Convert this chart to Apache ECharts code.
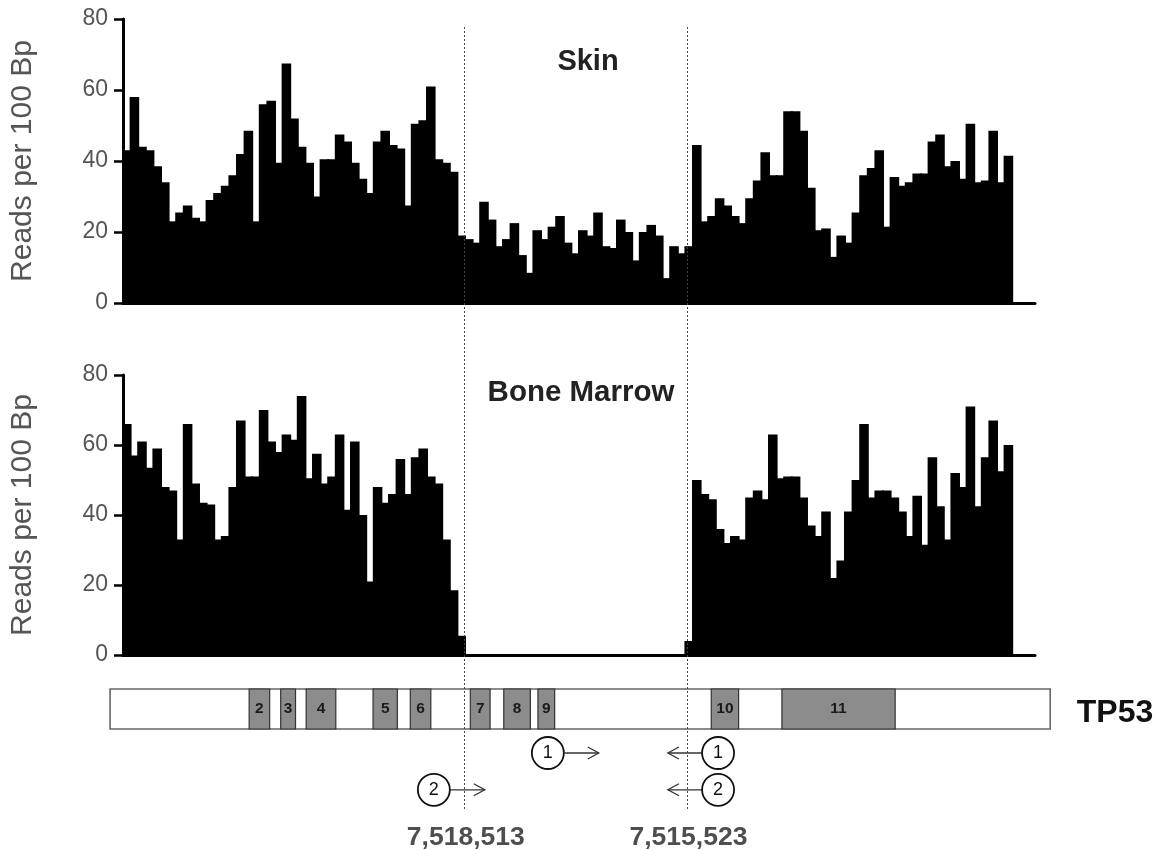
<!DOCTYPE html>
<html>
<head>
<meta charset="utf-8">
<script src="https://cdn.jsdelivr.net/npm/echarts@6/dist/echarts.min.js"></script>
<style>
html,body{margin:0;padding:0;background:#fff;}
#chart{width:1159px;height:850px;}
</style>
</head>
<body>
<div id="chart"></div>
<script>
// ---- data (reads per 100 bp, one value per 100-bp bin) ----
const binCount = 120; // axis length in bins (117 bins with data)
const skinValues = [
  43, 58, 44, 43, 38.5, 34, 23, 25.5, 27.5, 24,
  23, 29, 31, 33, 36, 42, 48.5, 23, 56, 57,
  39.5, 67.5, 52, 44, 39.5, 30, 40.5, 40.5, 47.5, 45.5,
  39.5, 35, 31, 45.5, 48.5, 44.5, 43.5, 27.5, 50.5, 51.5,
  61, 40.5, 39.5, 37, 19, 18, 17,
  28.5, 23.5, 16, 18, 22.5, 13.5, 8.5, 20.5, 18, 21.5,
  24.5, 17, 14, 20.5, 19, 25.5, 16, 15.5, 23.5, 20,
  12, 20, 22, 19, 7, 16, 14, 16,
  44.5, 23, 24.5, 29.5, 27.5, 24.5, 22.5, 29.5, 34.5, 42.5,
  36, 36, 54, 54, 48.5, 32.5, 20.5, 21, 13, 19,
  17, 25.5, 36, 38, 43, 21.5, 35.5, 33, 34, 36.5,
  36.5, 45.5, 47.5, 38.5, 40, 35, 50.5, 34, 34.5, 48.5,
  34, 41.5
];
const marrowValues = [
  66, 57, 61, 53.5, 59, 48, 47, 33, 66, 49,
  43.5, 43, 33, 34, 48, 67, 51, 51, 70, 61,
  58, 63, 61.5, 74, 50.5, 57.5, 49, 51, 63, 41.5,
  61, 40, 21, 48, 43.5, 46, 56, 46, 56.5, 59,
  51, 49, 33, 18.5, 5.5,
  0, 0, 0, 0, 0, 0, 0, 0, 0, 0,
  0, 0, 0, 0, 0, 0, 0, 0, 0, 0,
  0, 0, 0, 0, 0, 0, 0, 0, 0,
  4,
  50, 46, 44.5, 36, 32, 34, 33, 45, 47, 44.5,
  63, 50.5, 51, 51, 45, 37, 34, 41, 22, 27,
  41, 50, 66, 45, 47, 47, 45, 41, 34, 45.5,
  31.5, 56.5, 42.5, 33, 52, 48, 71, 42.5, 56.5, 67,
  52.5, 60
];
const yTicks = [0, 20, 40, 60, 80];
const panelTitles = ['Skin', 'Bone Marrow'];
const yAxisTitle = 'Reads per 100 Bp';

// gene model in bin units (same scale as the bar panels)
const geneName = 'TP53';
const geneSpan = [-1.7, 122.0];
const exonNames  = ['2', '3', '4', '5', '6', '7', '8', '9', '10', '11'];
const exonStarts = [16.6, 20.75, 24.1, 32.9, 37.8, 45.7, 50.1, 54.6, 77.4, 86.7];
const exonEnds   = [19.3, 22.7, 28.0, 36.1, 40.5, 48.3, 53.6, 56.8, 81.0, 101.6];

// deletion boundaries (bin position) and genomic coordinates
const boundaryPos    = [44.9, 74.2];
const boundaryLabels = ['7,518,513', '7,515,523'];

// primers: label, circle position, arrow from, arrow to, row
const primerLabels  = ['1', '2', '1', '2'];
const primerCircleX = [55.9, 40.9, 78.3, 78.3];
const primerArrowFrom = [58.1, 43.0, 76.2, 76.2];
const primerArrowTo   = [62.6, 47.6, 71.7, 71.7];
const primerRow     = [-0.6, -1.52, -0.6, -1.52]; // track units below the gene box

// ---- build ----
const categories = [];
for (let i = 0; i < binCount; i++) categories.push(String(i + 1));

const FONT = '"Liberation Sans", Arial, sans-serif';

function barGrid(top, height) {
  return { left: 123, top: top, width: 912, height: height, outerBoundsMode: 'none', containLabel: false };
}
function xCat(gridIndex) {
  return {
    type: 'category', gridIndex, data: categories,
    axisLine: { show: true, lineStyle: { color: '#000', width: 3 } },
    axisTick: { show: false }, axisLabel: { show: false }, splitLine: { show: false }
  };
}
function yVal(gridIndex) {
  return {
    type: 'value', gridIndex, min: yTicks[0], max: yTicks[yTicks.length - 1], interval: 20,
    name: yAxisTitle, nameLocation: 'middle', nameGap: 85, nameRotate: 90,
    nameTextStyle: { color: '#555', fontSize: 30, fontFamily: FONT },
    axisLine: { show: true, lineStyle: { color: '#000', width: 3 } },
    axisTick: { show: true, length: 9, lineStyle: { color: '#000', width: 2.5 } },
    axisLabel: { color: '#555', fontSize: 23, fontFamily: FONT, margin: 15 },
    splitLine: { show: false }
  };
}

const exonData = exonNames.map((n, i) => [exonStarts[i], exonEnds[i], n]);
const boundaryData = boundaryPos.map((x, i) => [x, 17.55, -2.05, boundaryLabels[i]]);
const circleData = primerLabels.map((l, i) => [primerCircleX[i], primerRow[i], l]);
const arrowData = primerLabels.map((l, i) => [primerArrowFrom[i], primerArrowTo[i], primerRow[i]]);
const coordLabelData = boundaryPos.map((x, i) => [x + 0.2, -2.72, boundaryLabels[i]]);

const barItem = { color: '#000', borderWidth: 0 };

const option = {
  animation: false,
  backgroundColor: '#fff',
  title: [
    { text: panelTitles[0], left: 583, top: 42, textAlign: 'center',
      textStyle: { fontSize: 29, fontWeight: 'bold', color: '#222', fontFamily: FONT } },
    { text: panelTitles[1], left: 576, top: 373, textAlign: 'center',
      textStyle: { fontSize: 29.5, fontWeight: 'bold', color: '#222', fontFamily: FONT } },
    { text: geneName, left: 1110, top: 692, textAlign: 'center',
      textStyle: { fontSize: 32, fontWeight: 'bold', color: '#111', fontFamily: FONT } }
  ],
  grid: [
    barGrid(19, 284),
    barGrid(375, 280),
    { left: 123, top: 689, width: 912, height: 40, outerBoundsMode: 'none', containLabel: false }
  ],
  xAxis: [
    xCat(0), xCat(1),
    { type: 'value', gridIndex: 2, min: 0, max: binCount, show: false }
  ],
  yAxis: [
    yVal(0), yVal(1),
    { type: 'value', gridIndex: 2, min: 0, max: 1, show: false }
  ],
  series: [
    {
      name: panelTitles[0], type: 'bar', xAxisIndex: 0, yAxisIndex: 0,
      data: skinValues, barWidth: '126%',
      itemStyle: barItem, silent: true, large: false
    },
    {
      name: panelTitles[1], type: 'bar', xAxisIndex: 1, yAxisIndex: 1,
      data: marrowValues, barWidth: '126%',
      itemStyle: barItem, silent: true, large: false
    },
    {
      name: 'gene', type: 'custom', xAxisIndex: 2, yAxisIndex: 2, clip: false, z: 3,
      data: [[geneSpan[0], geneSpan[1]]],
      encode: { x: [0, 1] },
      renderItem(params, api) {
        const a = api.coord([api.value(0), 1]);
        const b = api.coord([api.value(1), 0]);
        return { type: 'rect', shape: { x: a[0], y: a[1], width: b[0] - a[0], height: b[1] - a[1] },
          style: { fill: '#fff', stroke: '#666', lineWidth: 1.6 } };
      }
    },
    {
      name: 'exons', type: 'custom', xAxisIndex: 2, yAxisIndex: 2, clip: false, z: 4,
      data: exonData,
      encode: { x: [0, 1] },
      renderItem(params, api) {
        const a = api.coord([api.value(0), 1]);
        const b = api.coord([api.value(1), 0]);
        const label = exonData[params.dataIndex][2];
        return { type: 'group', children: [
          { type: 'rect', shape: { x: a[0], y: a[1], width: b[0] - a[0], height: b[1] - a[1] },
            style: { fill: '#8c8c8c', stroke: '#333', lineWidth: 1.2 } },
          { type: 'text', style: { text: label, x: (a[0] + b[0]) / 2, y: (a[1] + b[1]) / 2,
            align: 'center', verticalAlign: 'middle', fontSize: 15.5, fontWeight: 'bold',
            fontFamily: FONT, fill: '#1a1a1a' } }
        ] };
      }
    },
    {
      name: 'boundaries', type: 'custom', xAxisIndex: 2, yAxisIndex: 2, clip: false, z: 6,
      data: boundaryData,
      encode: { x: 0 },
      renderItem(params, api) {
        const a = api.coord([api.value(0), api.value(1)]);
        const b = api.coord([api.value(0), api.value(2)]);
        const x = Math.round(a[0]) + 0.5;
        return { type: 'line', shape: { x1: x, y1: a[1], x2: x, y2: b[1] },
          style: { stroke: '#444', lineWidth: 1, lineDash: [2, 2] } };
      }
    },
    {
      name: 'primer arrows', type: 'custom', xAxisIndex: 2, yAxisIndex: 2, clip: false, z: 5,
      data: arrowData,
      encode: { x: [0, 1] },
      renderItem(params, api) {
        const p0 = api.coord([api.value(0), api.value(2)]);
        const p1 = api.coord([api.value(1), api.value(2)]);
        const dir = Math.sign(p1[0] - p0[0]);
        const head = 11, hw = 6;
        return { type: 'group', children: [
          { type: 'line', shape: { x1: p0[0], y1: p0[1], x2: p1[0], y2: p1[1] },
            style: { stroke: '#333', lineWidth: 1.3 } },
          { type: 'polyline', shape: { points: [[p1[0] - dir * head, p1[1] - hw], [p1[0], p1[1]], [p1[0] - dir * head, p1[1] + hw]] },
            style: { stroke: '#333', fill: null, lineWidth: 1.3 } }
        ] };
      }
    },
    {
      name: 'primers', type: 'scatter', xAxisIndex: 2, yAxisIndex: 2, clip: false, z: 7,
      data: circleData, symbol: 'circle', symbolSize: 32,
      itemStyle: { color: '#fff', borderColor: '#111', borderWidth: 1.8, opacity: 1 },
      label: { show: true, position: 'inside', formatter: p => p.data[2],
        color: '#111', fontSize: 18, fontFamily: FONT },
      silent: true
    },
    {
      name: 'coordinates', type: 'scatter', xAxisIndex: 2, yAxisIndex: 2, clip: false, z: 7,
      data: coordLabelData, symbolSize: 0,
      label: { show: true, position: 'inside', formatter: p => p.data[2],
        color: '#222', fontSize: 26.5, fontWeight: 'bold', fontFamily: FONT },
      silent: true
    }
  ]
};

const chart = echarts.init(document.getElementById('chart'), null, { renderer: 'canvas' });
chart.setOption(option);
</script>
</body>
</html>
